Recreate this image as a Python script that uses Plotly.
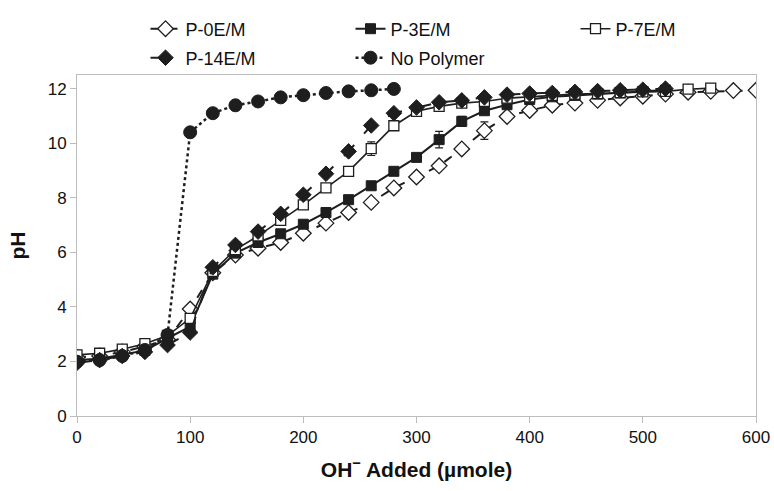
import plotly.graph_objects as go

x_full = [0, 20, 40, 60, 80, 100, 120, 140, 160, 180, 200, 220, 240, 260, 280, 300,
          320, 340, 360, 380, 400, 420, 440, 460, 480, 500, 520, 540, 560, 580, 600]

p0_y = [2.15, 2.2, 2.35, 2.55, 2.8, 3.92, 5.25, 5.9, 6.15, 6.36, 6.70, 7.07, 7.46, 7.83, 8.36, 8.76,
        9.17, 9.79, 10.46, 10.98, 11.2, 11.39, 11.47, 11.57, 11.66, 11.72, 11.8, 11.87, 11.9, 11.93, 11.94]
p0_err = [0, 0, 0, 0, 0, 0, 0, 0, 0, 0, 0, 0, 0, 0, 0, 0, 0, 0.12, 0.32, 0.1, 0, 0, 0, 0, 0, 0, 0, 0, 0, 0, 0]

x_p3 = x_full[:27]
p3_y = [2.05, 2.1, 2.25, 2.4, 2.85, 3.28, 5.2, 5.97, 6.36, 6.68, 7.03, 7.46, 7.93, 8.44, 8.97, 9.48,
        10.13, 10.8, 11.19, 11.41, 11.6, 11.7, 11.75, 11.8, 11.85, 11.9, 11.95]
p3_err = [0, 0, 0, 0, 0, 0, 0, 0, 0, 0, 0, 0, 0, 0, 0.1, 0.1, 0.3, 0.18, 0.1, 0, 0, 0, 0, 0, 0, 0, 0]

x_p7 = x_full[:29]
p7_y = [2.24, 2.3, 2.45, 2.65, 2.95, 3.58, 5.3, 6.1, 6.6, 7.17, 7.74, 8.36, 8.97, 9.8, 10.64, 11.17,
        11.35, 11.47, 11.53, 11.65, 11.7, 11.75, 11.8, 11.82, 11.85, 11.88, 11.9, 11.98, 12.02]
p7_err = [0, 0, 0, 0, 0, 0, 0, 0, 0, 0, 0, 0, 0, 0.25, 0.1, 0, 0, 0, 0, 0, 0, 0, 0, 0, 0, 0, 0, 0, 0]

x_p14 = x_full[:27]
p14_y = [1.95, 2.05, 2.2, 2.35, 2.6, 3.06, 5.45, 6.27, 6.76, 7.41, 8.11, 8.88, 9.7, 10.65, 11.1, 11.31,
         11.5, 11.57, 11.68, 11.78, 11.82, 11.84, 11.88, 11.91, 11.94, 11.96, 12.0]

x_np = x_full[:15]
np_y = [1.99, 2.05, 2.2, 2.42, 2.97, 10.4, 11.1, 11.39, 11.53, 11.68, 11.76, 11.84, 11.9, 11.94, 11.99]

names = ["P-0E/M", "P-3E/M", "P-7E/M", "P-14E/M", "No Polymer"]

dark = "#1e1e1e"
axis_grey = "#bdbdbd"
font_family = "Liberation Sans, Arial, sans-serif"

W, H = 774, 491

fig = go.Figure()


def err(vals):
    return dict(type="data", array=vals, visible=True, color=dark, thickness=1.2, width=4)


fig.add_trace(go.Scatter(
    x=x_full, y=p0_y, name=names[0], mode="lines+markers", error_y=err(p0_err),
    line=dict(color=dark, width=2, dash="dash"),
    marker=dict(symbol="diamond", size=12, color="white", line=dict(color=dark, width=1.3)),
    legend="legend"))
fig.add_trace(go.Scatter(
    x=x_p3, y=p3_y, name=names[1], mode="lines+markers", error_y=err(p3_err),
    line=dict(color=dark, width=2),
    marker=dict(symbol="square", size=10, color=dark, line=dict(color=dark, width=1)),
    legend="legend2"))
fig.add_trace(go.Scatter(
    x=x_p7, y=p7_y, name=names[2], mode="lines+markers", error_y=err(p7_err),
    line=dict(color=dark, width=1.6),
    marker=dict(symbol="square", size=10, color="white", line=dict(color=dark, width=1.3)),
    legend="legend3"))
fig.add_trace(go.Scatter(
    x=x_p14, y=p14_y, name=names[3], mode="lines+markers",
    line=dict(color=dark, width=2, dash="longdash"),
    marker=dict(symbol="diamond", size=12, color=dark, line=dict(color=dark, width=1)),
    legend="legend4"))
fig.add_trace(go.Scatter(
    x=x_np, y=np_y, name=names[4], mode="lines+markers",
    line=dict(color=dark, width=2.5, dash="dot"),
    marker=dict(symbol="circle", size=13, color=dark, line=dict(color=dark, width=1)),
    legend="legend5"))

legend_common = dict(orientation="h", xanchor="left", yanchor="middle",
                     xref="container", yref="container",
                     font=dict(family=font_family, size=18, color="#111"),
                     bgcolor="rgba(0,0,0,0)", itemwidth=30)

row1_y = 1 - 29 / H
row2_y = 1 - 58 / H
col_x = [145.5 / W, 350.5 / W, 575.5 / W]

fig.update_layout(
    width=W, height=H,
    margin=dict(l=77, r=18, t=75, b=75, autoexpand=False),
    paper_bgcolor="white", plot_bgcolor="white",
    font=dict(family=font_family, size=16, color="#111"),
    showlegend=True,
    legend=dict(x=col_x[0], y=row1_y, **legend_common),
    legend2=dict(x=col_x[1], y=row1_y, **legend_common),
    legend3=dict(x=col_x[2], y=row1_y, **legend_common),
    legend4=dict(x=col_x[0], y=row2_y, **legend_common),
    legend5=dict(x=col_x[1], y=row2_y, **legend_common),
    xaxis=dict(range=[0, 600], tickvals=[0, 100, 200, 300, 400, 500, 600],
               showgrid=False, zeroline=False, showline=True, linecolor=axis_grey, linewidth=1,
               mirror=True, ticks="outside", ticklen=6, tickcolor=axis_grey,
               tickfont=dict(family=font_family, size=17, color="#111"),
               title=dict(text="<b>OH<sup>−</sup> Added (µmole)</b>",
                          font=dict(family=font_family, size=21, color="#111"), standoff=15)),
    yaxis=dict(range=[0, 12.5], tickvals=[0, 2, 4, 6, 8, 10, 12],
               showgrid=False, zeroline=False, showline=True, linecolor=axis_grey, linewidth=1,
               mirror=True, ticks="outside", ticklen=6, tickcolor=axis_grey,
               tickfont=dict(family=font_family, size=17, color="#111"),
               title=dict(text="<b>pH</b>", font=dict(family=font_family, size=21, color="#111"),
                          standoff=16)),
)

fig.write_html("out.html", config={"displayModeBar": False},
               post_script="document.body.style.margin='0';document.body.style.overflow='hidden';")
